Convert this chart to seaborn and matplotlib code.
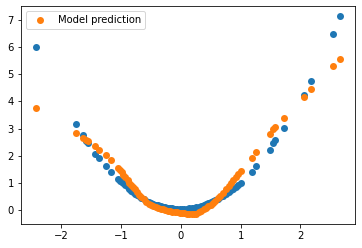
import matplotlib
matplotlib.use("Agg")
import matplotlib.pyplot as plt
import seaborn as sns
import numpy as np

x_vals = [-2.42, -1.75, -1.63, -1.58, -1.55, -1.43, -1.37, -1.25, -1.17, -1.05,
          -1.02, -0.99, -0.96, -0.93, -0.89, -0.86, -0.83, -0.80, -0.77, -0.73,
          -0.70, -0.66, -0.62, -0.58, -0.54, -0.50, -0.46, -0.42, -0.38, -0.34,
          -0.30, -0.26, -0.22, -0.18, -0.14, -0.10, -0.06, -0.02, 0.02, 0.06,
          0.10, 0.14, 0.18, 0.22, 0.26, 0.30, 0.34, 0.38, 0.42, 0.46,
          0.50, 0.54, 0.58, 0.62, 0.66, 0.70, 0.76, 0.80, 0.84, 0.88,
          0.92, 0.96, 1.00, 1.19, 1.255, 1.49, 1.545, 1.58, 1.72, 2.06,
          2.17, 2.54, 2.66]

y_true = [6.00, 3.15, 2.75, 2.55, 2.47, 2.07, 1.91, 1.62, 1.40, 1.13,
          1.07, 1.02, 0.97, 0.90, 0.83, 0.78, 0.71, 0.65, 0.60, 0.54,
          0.49, 0.44, 0.39, 0.34, 0.30, 0.26, 0.22, 0.19, 0.16, 0.13,
          0.11, 0.09, 0.07, 0.06, 0.05, 0.04, 0.04, 0.03, 0.03, 0.03,
          0.04, 0.05, 0.06, 0.08, 0.10, 0.12, 0.15, 0.18, 0.21, 0.25,
          0.28, 0.32, 0.36, 0.41, 0.46, 0.50, 0.60, 0.66, 0.72, 0.78,
          0.85, 0.92, 1.00, 1.41, 1.62, 2.21, 2.45, 2.58, 3.01, 4.25,
          4.77, 6.48, 7.16]

y_pred = [3.75, 2.85, 2.66, 2.58, 2.55, 2.34, 2.22, 2.03, 1.82, 1.55,
          1.47, 1.38, 1.29, 1.21, 1.10, 1.00, 0.92, 0.84, 0.75, 0.64,
          0.55, 0.46, 0.38, 0.30, 0.23, 0.17, 0.13, 0.09, 0.06, 0.03,
          0.01, -0.02, -0.04, -0.06, -0.07, -0.09, -0.10, -0.11, -0.12, -0.13,
          -0.14, -0.15, -0.16, -0.16, -0.14, -0.09, -0.04, 0.02, 0.07, 0.13,
          0.19, 0.26, 0.33, 0.42, 0.52, 0.62, 0.78, 0.88, 0.99, 1.10,
          1.21, 1.31, 1.42, 1.93, 2.14, 2.78, 2.99, 3.07, 3.38, 4.16,
          4.45, 5.30, 5.56]

legend_label = "Model prediction"

plt.rcParams["font.family"] = ["DejaVu Sans"]
plt.rcParams["font.size"] = 10

fig = plt.figure(figsize=(362 / 72, 248 / 72), dpi=72)
ax = fig.add_axes([21 / 362, (248 - 224) / 248, (355 - 21) / 362, (224 - 6) / 248])

sns.scatterplot(x=x_vals, y=y_true, ax=ax, color="#1f77b4", s=49, linewidth=0)
sns.scatterplot(x=x_vals, y=y_pred, ax=ax, color="#ff7f0e", s=49, linewidth=0,
                label=legend_label)

ax.legend(loc="upper left")
ax.set_xticks([-2, -1, 0, 1, 2])
ax.set_yticks([0, 1, 2, 3, 4, 5, 6, 7])

fig.savefig("out.png", dpi=72)
